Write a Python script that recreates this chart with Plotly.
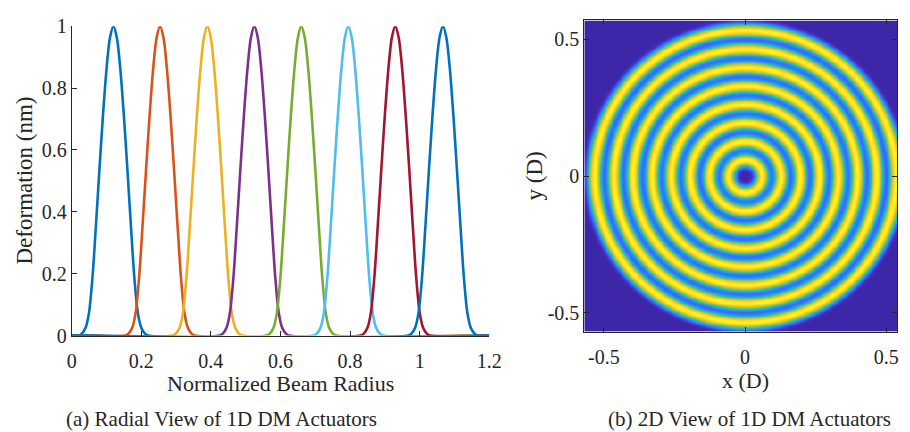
import numpy as np
import plotly.graph_objects as go

# ---------------- data ----------------
# actuator centres (normalized beam radius)
centers = [0.120, 0.254, 0.390, 0.525, 0.660, 0.795, 0.930, 1.067]
# one actuator influence profile: offset from centre -> deformation (nm)
prof_offset = [0.0, 0.010, 0.020, 0.030, 0.040, 0.050, 0.060, 0.070, 0.080, 0.090, 0.100]
prof_value = [1.0, 0.962, 0.860, 0.712, 0.540, 0.360, 0.190, 0.075, 0.025, 0.007, 0.0]
line_colors = ["#0072BD", "#D95319", "#EDB120", "#7E2F8E",
               "#77AC30", "#4DBEEE", "#A2142F", "#0072BD"]
x_ticks = [0, 0.2, 0.4, 0.6, 0.8, 1.0, 1.2]
x_ticktext = ["0", "0.2", "0.4", "0.6", "0.8", "1", "1.2"]
y_ticks = [0, 0.2, 0.4, 0.6, 0.8, 1.0]
y_ticktext = ["0", "0.2", "0.4", "0.6", "0.8", "1"]
d_ticks = [-0.5, 0, 0.5]
d_ticktext = ["-0.5", "0", "0.5"]
parula = [[0.0, "#3e26a8"], [0.127, "#484df0"], [0.254, "#327cfc"],
          [0.381, "#20a5e3"], [0.508, "#19bfb6"], [0.635, "#64cd6f"],
          [0.762, "#d1bf27"], [0.889, "#fec934"], [1.0, "#f9fb15"]]

FONT = "Liberation Serif, DejaVu Serif, Times New Roman, serif"
AX = "#262626"

fig = go.Figure()

# ---------------- left panel: radial profiles ----------------
po = np.array(prof_offset)
pv = np.array(prof_value)
for c, col in zip(centers, line_colors):
    xs = np.concatenate([[0.0], c - po[::-1], c + po[1:], [1.2]])
    ys = np.concatenate([[0.0], pv[::-1], pv[1:], [0.0]])
    fig.add_trace(go.Scatter(x=xs, y=ys, mode="lines",
                             line=dict(color=col, width=2.6, shape="spline", smoothing=0.8),
                             xaxis="x", yaxis="y", showlegend=False, hoverinfo="skip"))

# ---------------- right panel: 2D view ----------------
g = np.linspace(-0.569, 0.569, 361)
X, Y = np.meshgrid(g, g)
R = 2.0 * np.sqrt(X ** 2 + Y ** 2)  # D units -> normalized beam radius
Z = np.zeros_like(R)
for c in centers:
    Z += np.interp(np.abs(R - c), po, pv, right=0.0)
fig.add_trace(go.Heatmap(x=g, y=g, z=Z, colorscale=parula, zmin=0, zmax=1,
                         showscale=False, xaxis="x2", yaxis="y2", hoverinfo="skip",
                         zsmooth="best"))

W, H = 910, 432
def px_x(p): return p / W
def px_y(p): return 1 - p / H

tick_font = dict(family=FONT, size=20, color=AX)
common = dict(ticks="inside", ticklen=5, tickcolor=AX, showline=True, linecolor=AX,
              linewidth=1, showgrid=False, zeroline=False, tickfont=tick_font)

fig.update_layout(
    width=W, height=H, margin=dict(l=0, r=0, t=0, b=0),
    paper_bgcolor="white", plot_bgcolor="white",
    xaxis=dict(domain=[px_x(68), px_x(494)], range=[0, 1.2], tickvals=x_ticks,
               ticktext=x_ticktext, anchor="y", ticklabelstandoff=7, **common),
    yaxis=dict(domain=[px_y(342), px_y(16)], range=[0, 1.0], tickvals=y_ticks,
               ticktext=y_ticktext, anchor="x", ticklabelstandoff=0, **common),
    xaxis2=dict(domain=[px_x(591), px_x(910)], range=[-0.569, 0.538], tickvals=d_ticks,
                ticktext=d_ticktext, anchor="y2", mirror="ticks", ticklabelstandoff=7,
                **common),
    yaxis2=dict(domain=[px_y(338), px_y(10)], range=[-0.569, 0.569], tickvals=d_ticks,
                ticktext=d_ticktext, anchor="x2", mirror="ticks", ticklabelstandoff=0,
                **common),
)

def ann(text, x, y, size, angle=0, yanchor="middle"):
    fig.add_annotation(text=text, x=px_x(x), y=px_y(y), xref="paper", yref="paper",
                       showarrow=False, textangle=angle, xanchor="center", yanchor=yanchor,
                       font=dict(family=FONT, size=size, color=AX))

ann("Normalized Beam Radius", 281, 393, 22)
ann("Deformation (nm)", 20, 179, 23, -90)
ann("x (D)", 755, 389, 22)
ann("y (D)", 540, 174, 23, -90)
ann("(a) Radial View of 1D DM Actuators", 221, 430, 21)
ann("(b) 2D View of 1D DM Actuators", 760, 430, 21)

fig.write_html("out.html")
